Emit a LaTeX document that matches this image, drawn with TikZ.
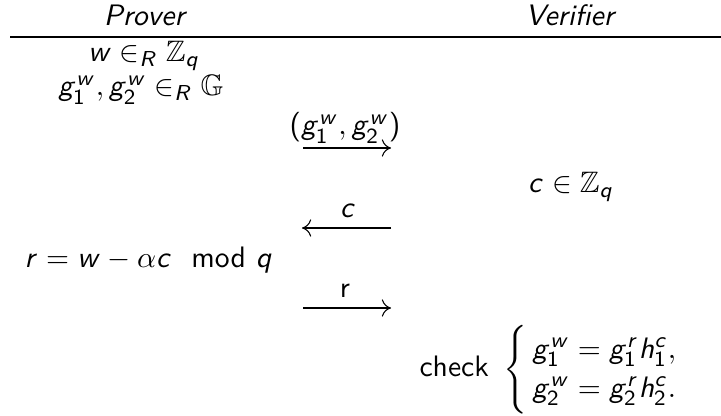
\documentclass[tikz,border=0pt]{standalone}
\usepackage{amsmath,amssymb}
\usetikzlibrary{arrows.meta}
\renewcommand{\familydefault}{\sfdefault}
\DeclareSymbolFont{sfletters}{OT1}{cmss}{m}{sl}
\DeclareSymbolFont{operators}{OT1}{cmss}{m}{n}
\DeclareMathSymbol{w}{\mathalpha}{sfletters}{`w}
\DeclareMathSymbol{R}{\mathalpha}{sfletters}{`R}
\DeclareMathSymbol{q}{\mathalpha}{sfletters}{`q}
\DeclareMathSymbol{g}{\mathalpha}{sfletters}{`g}
\DeclareMathSymbol{c}{\mathalpha}{sfletters}{`c}
\DeclareMathSymbol{r}{\mathalpha}{sfletters}{`r}
\DeclareMathSymbol{h}{\mathalpha}{sfletters}{`h}
\newcommand{\rowstrut}{\rule[-3pt]{0pt}{13.3pt}}
\begin{document}
\begin{tikzpicture}[x=0.37pt,y=-0.37pt,
  txt/.style={inner sep=0pt,outer sep=0pt,anchor=base,font=\fontsize{10.95}{13.6}\selectfont},
  msg/.style={line width=0.4pt,-{Computer Modern Rightarrow[length=3.4pt,width=6.4pt]}}]
\useasboundingbox (0,0) rectangle (721,416);
% header
\node[txt] (prover) at (145.5,26) {\textsl{Prover}};
\node[txt] (verifier) at (571,26) {\textsl{Verifier}};
\coordinate (rl) at (10,37);
\coordinate (rr) at (721,37);
\draw[line width=0.4pt] (rl) -- (rr);
% prover setup
\node[txt] (w) at (144,62) {$w \in_R \mathbb{Z}_q$};
\node[txt] (gw) at (141,96) {$g_1^w, g_2^w \in_R \mathbb{G}$};
% first message
\node[txt] (m1) at (345,135) {$(g_1^w, g_2^w)$};
\coordinate (a1s) at (303,148);
\coordinate (a1e) at (391,148);
\draw[msg] (a1s) -- (a1e);
% challenge
\node[txt] (cz) at (571,193) {$c \in \mathbb{Z}_q$};
\node[txt] (m2) at (348,218) {$c$};
\coordinate (a2s) at (391,228);
\coordinate (a2e) at (302,228);
\draw[msg] (a2s) -- (a2e);
% response
\node[txt] (resp) at (148.5,268) {$r = w - \alpha c \mod q$};
\node[txt] (m3) at (345,298) {r};
\coordinate (a3s) at (303,308);
\coordinate (a3e) at (391,308);
\draw[msg] (a3s) -- (a3e);
% check
\node[txt] (chk) at (549.5,377) {check $\,\left\{\rule[-13.2pt]{0pt}{31.4pt}\renewcommand{\arraystretch}{1}\begin{array}{@{\,}l@{}}
  \rowstrut g_1^w = g_1^r h_1^c, \\
  \rowstrut g_2^w = g_2^r h_2^c.
\end{array}\right.$};
\end{tikzpicture}
\end{document}
